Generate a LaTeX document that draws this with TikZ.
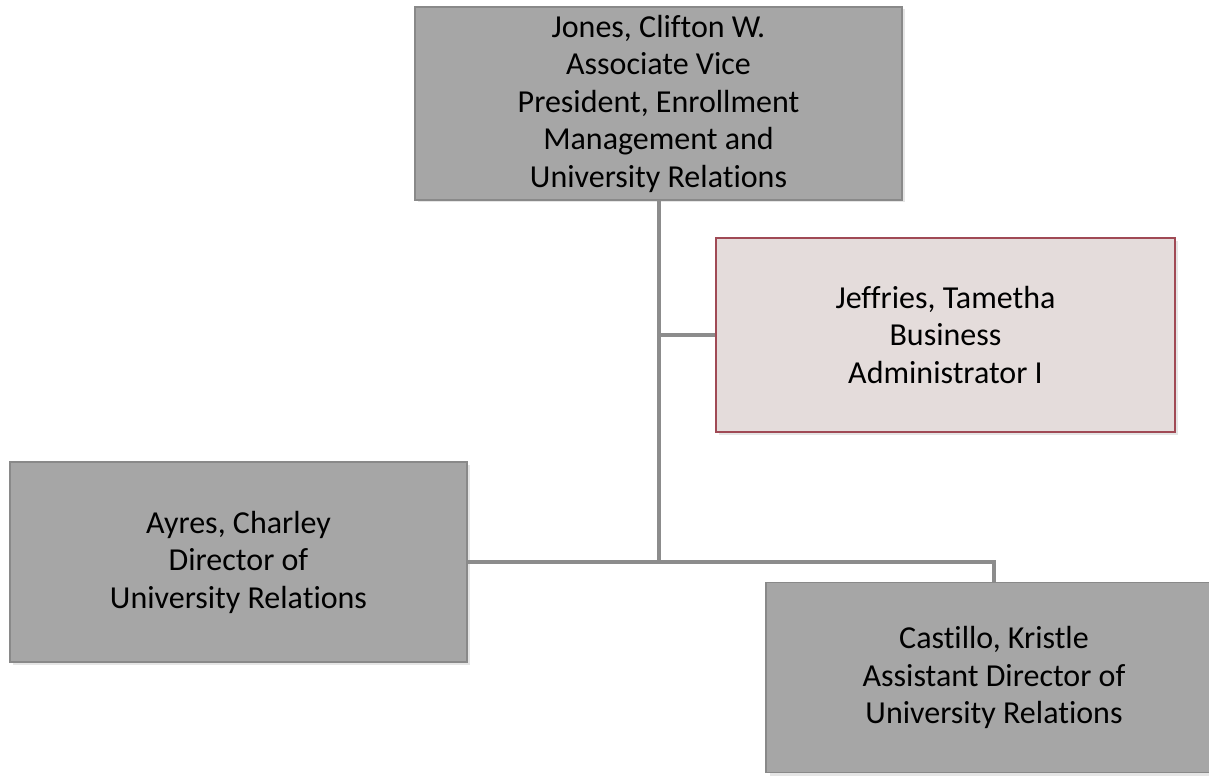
\documentclass[tikz,border=0pt]{standalone}
\usepackage{fontspec}
\setmainfont{Carlito}[Ligatures=NoCommon]
\definecolor{boxgray}{HTML}{A6A6A6}
\definecolor{boxline}{HTML}{898989}
\definecolor{pinkfill}{HTML}{E4DCDB}
\definecolor{redline}{HTML}{A04A55}
\definecolor{conn}{HTML}{8C8C8C}
\begin{document}
\begin{tikzpicture}[x=1pt,y=-1pt,
  box/.style={draw=boxline, fill=boxgray, line width=1.5pt, align=center,
    inner sep=0pt, font=\fontsize{32}{37.5}\selectfont},
  pinkbox/.style={box, draw=redline, fill=pinkfill},
  shade/.style={fill=black!10},
  link/.style={draw=conn, line width=4pt}]
\useasboundingbox (0,0) rectangle (1209,778);
% shadows
\fill[shade] (418,9) rectangle (905,202);
\fill[shade] (719,241) rectangle (1178,435);
\fill[shade] (13,465) rectangle (470,665);
\fill[shade] (770,586) rectangle (1226,776);
% boxes
\node[box, minimum width=487pt, minimum height=193pt] (jones) at (658.5,103.5)
  {Jones, Clifton W.\\Associate Vice\\President, Enrollment\\Management and\\University Relations};
\node[pinkbox, minimum width=459pt, minimum height=194pt] (jeff) at (945.5,335)
  {Jeffries, Tametha\\Business\\Administrator I};
\node[box, minimum width=457pt, minimum height=200pt] (ayres) at (238.5,562)
  {Ayres, Charley\\Director of\\University Relations};
\node[box, minimum width=456pt, minimum height=190pt] (cast) at (994,677.5)
  {Castillo, Kristle\\Assistant Director of\\University Relations};
\coordinate (hub) at (659,562);
% connectors
\draw[link] (jones.south -| hub) -- (hub);
\draw[link] (jeff.west -| hub) -- (jeff.west);
\draw[link] (ayres.east) -- (hub) -| (cast.north);
\end{tikzpicture}
\end{document}
